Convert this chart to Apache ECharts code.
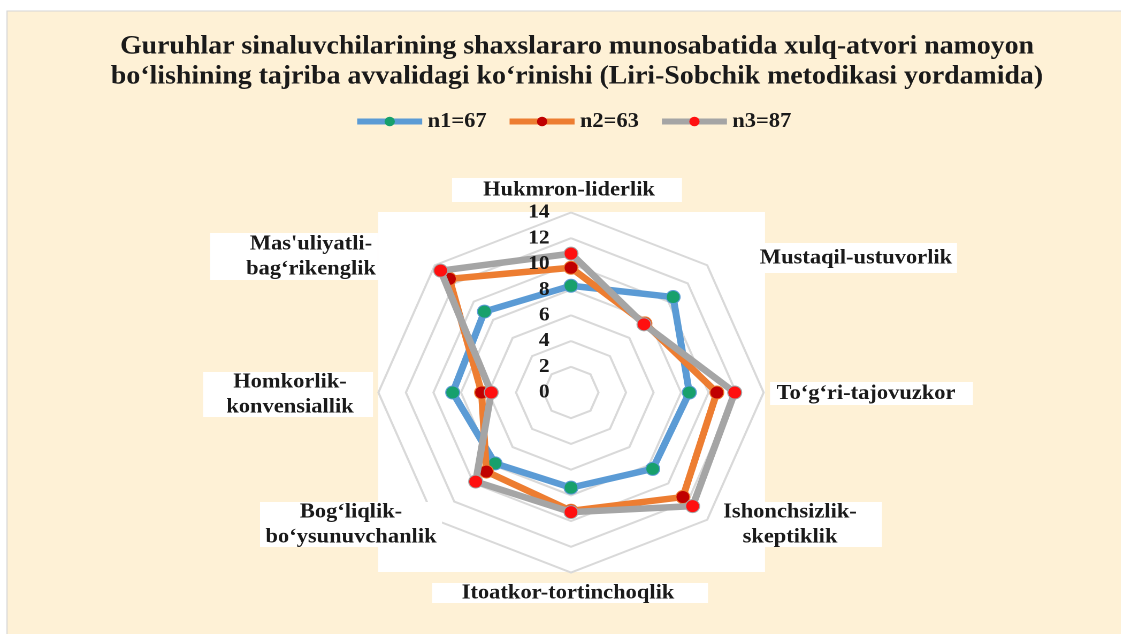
<!DOCTYPE html>
<html>
<head>
<meta charset="utf-8">
<script src="https://cdn.jsdelivr.net/npm/echarts@6/dist/echarts.min.js"></script>
<style>
html,body{margin:0;padding:0;background:#fff;overflow:hidden;}
#chart{width:1048px;height:634px;transform:scaleX(1.07);transform-origin:0 0;}
</style>
</head>
<body>
<div id="chart"></div>
<script>
// ---- data (clockwise from the top axis) ----
const categories = [
  'Hukmron-liderlik',
  'Mustaqil-ustuvorlik',
  'To‘g‘ri-tajovuzkor',
  'Ishonchsizlik-\nskeptiklik',
  'Itoatkor-tortinchoqlik',
  'Bog‘liqlik-\nbo‘ysunuvchanlik',
  'Homkorlik-\nkonvensiallik',
  "Mas'uliyatli-\nbag‘rikenglik"
];
const seriesNames = ['n1=67', 'n2=63', 'n3=87'];
const n1 = [8.3, 10.5, 8.6, 8.4, 7.4, 7.8, 8.6, 8.9];
const n2 = [9.7, 7.6, 10.6, 11.5, 9.2, 8.7, 6.5, 12.5];
const n3 = [10.8, 7.5, 11.9, 12.5, 9.3, 9.8, 5.8, 13.4];
const axisMin = 0;
const axisMax = 14;
const axisStep = 2;
const titleLines = [
  'Guruhlar sinaluvchilarining shaxslararo munosabatida xulq-atvori namoyon',
  'bo‘lishining tajriba avvalidagi ko‘rinishi (Liri-Sobchik metodikasi yordamida)'
];

// ---- styles / layout ----
const SX = 1.07;                 // horizontal stretch of the reference picture
const px = v => v / SX;          // reference x -> unscaled x
const lineColors = ['#5B9BD5', '#ED7D31', '#A5A5A5'];
const markerColors = ['#17A06C', '#C00000', '#FF1010'];
const FONT = "'Liberation Serif', 'Times New Roman', 'DejaVu Serif', serif";
const TEXT = '#1A1A1A';
// label boxes in reference pixels: x0, y0, x1, y1, text centre x
const labelBoxes = [
  [452, 178, 682, 202, 569],
  [755, 243, 957, 273, 856],
  [770, 382, 973, 405, 866],
  [717, 502, 882, 547, 790],
  [432, 583, 708, 603, 568],
  [260, 502, 442, 547, 351],
  [203, 372, 373, 417, 290],
  [210, 233, 378, 280, 311]
];

// ECharts places radar indicators counter-clockwise; map clockwise order to it
const N = categories.length;
const ecOrder = categories.map((_, k) => (N - k) % N);
const makeIndicators = withLabel => ecOrder.map((i, k) => {
  const o = { name: categories[i], min: axisMin, max: axisMax };
  if (withLabel && k === 0) o.axisLabel = { show: true };
  return o;
});
const pick = arr => ecOrder.map(i => arr[i]);
const valueSets = [n1, n2, n3];

const graphics = [
  { type: 'rect', z: -100, shape: { x: px(7), y: 11, width: px(1121 - 7) + 2, height: 634 - 11 + 2 },
    style: { fill: '#FEF1D6', stroke: '#D6D6D6', lineWidth: 1 } },
  { type: 'rect', z: -90, shape: { x: px(378), y: 212, width: px(765 - 378), height: 572 - 212 },
    style: { fill: '#FFFFFF' } }
];
labelBoxes.forEach((b, i) => {
  graphics.push({ type: 'rect', z: 50, shape: { x: px(b[0]), y: b[1], width: px(b[2] - b[0]), height: b[3] - b[1] },
    style: { fill: '#FFFFFF' } });
  graphics.push({ type: 'text', z: 51, x: px(b[4]), y: (b[1] + b[3]) / 2,
    style: { text: categories[i], font: 'bold 21px ' + FONT, fontFamily: FONT, fontWeight: 'bold', fontSize: 21, lineHeight: 25,
      fill: TEXT, align: 'center', verticalAlign: 'middle', textAlign: 'center', textVerticalAlign: 'middle' } });
});

const series = [];
// legend-only line series (give the legend a line-with-marker icon)
seriesNames.forEach((nm, s) => {
  series.push({ type: 'line', name: nm, data: [], xAxisIndex: 0, yAxisIndex: 0,
    symbol: 'circle', lineStyle: { color: lineColors[s], width: 6 }, itemStyle: { color: markerColors[s] } });
});
seriesNames.forEach((nm, s) => {
  series.push({
    type: 'radar', name: nm, radarIndex: 0, z: 2 + s,
    symbol: 'circle', symbolSize: 13,
    lineStyle: { color: lineColors[s], width: 6.5, join: 'round', cap: 'round' },
    itemStyle: { color: markerColors[s], borderColor: lineColors[s], borderWidth: 1 },
    data: [{ name: nm, value: pick(valueSets[s]) }]
  });
});

const radarBase = {
  center: [px(571), 392.5],
  radius: 180,
  startAngle: 90,
  splitNumber: (axisMax - axisMin) / axisStep,
  shape: 'polygon',
  axisName: { show: false },
  axisLine: { show: false },
  axisTick: { show: false },
  splitArea: { show: false }
};

const chart = echarts.init(document.getElementById('chart'), null, { renderer: 'canvas', devicePixelRatio: 2 });
chart.setOption({
  backgroundColor: '#FFFFFF',
  animation: false,
  title: {
    text: titleLines.join('\n'),
    left: px(577), top: 32, padding: 0, textAlign: 'center',
    textStyle: { fontFamily: FONT, fontWeight: 'bold', fontSize: 26, lineHeight: 30, color: TEXT }
  },
  legend: {
    data: seriesNames,
    left: px(354), top: 111, padding: 0,
    itemWidth: px(65), itemHeight: 12, itemGap: 18.5,
    lineStyle: { width: 6 },
    textStyle: { fontFamily: FONT, fontWeight: 'bold', fontSize: 21, color: TEXT }
  },
  grid: { show: false, left: -200, top: -200, width: 10, height: 10 },
  xAxis: { type: 'category', show: false, data: [] },
  yAxis: { type: 'value', show: false },
  graphic: graphics,
  radar: [
    Object.assign({}, radarBase, {
      z: 0,
      indicator: makeIndicators(false),
      splitLine: { lineStyle: { color: '#D9D9D9', width: 2 } },
      axisLabel: { show: false }
    }),
    Object.assign({}, radarBase, {
      z: 20,
      indicator: makeIndicators(true),
      splitLine: { show: false },
      axisLabel: { show: false, margin: 20, fontFamily: FONT, fontWeight: 'bold', fontSize: 20, color: TEXT }
    })
  ],
  series: series
});
</script>
</body>
</html>
